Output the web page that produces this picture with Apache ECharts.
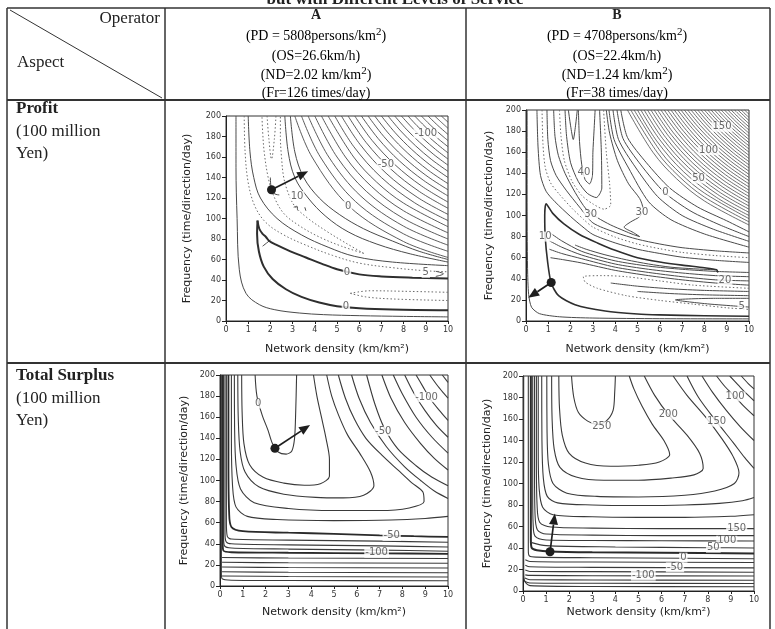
<!DOCTYPE html>
<html><head><meta charset="utf-8">
<script src="https://cdn.jsdelivr.net/npm/echarts/dist/echarts.min.js"></script>
<style>html,body{margin:0;padding:0;background:#fff}#c{width:775px;height:629px}</style>
</head><body><div id="c"></div>
<script>
// ---------- axis ticks ----------
const xTicks = [0,1,2,3,4,5,6,7,8,9,10];
const yTicks = [0,20,40,60,80,100,120,140,160,180,200];

// ---------- table text ----------
const headerA = ['A','(PD = 5808persons/km2)','(OS=26.6km/h)','(ND=2.02 km/km2)','(Fr=126 times/day)'];
const headerB = ['B','(PD = 4708persons/km2)','(OS=22.4km/h)','(ND=1.24 km/km2)','(Fr=38 times/day)'];
const rowProfit = ['Profit','(100 million','Yen)'];
const rowSurplus = ['Total Surplus','(100 million','Yen)'];

// ---------- Profit, operator A ----------
const profitA_solid = [
 [[0.45,200],[0.45,150],[0.5,100],[0.6,50],[0.9,27],[1.5,16],[2.2,11],[3.3,7.8],[4.4,6.2],[6,5.2],[8,4.5],[10,4]],
 [[1.0,200],[1.08,165],[1.25,140],[1.55,120],[2.3,100],[3.4,84],[4.6,72],[5.8,63],[7.5,57.5],[10,54]],
 [[2.0,140],[2.05,128],[2.2,124],[2.4,123]],
 [[3.05,111],[3.2,112],[3.22,108]],[[3.55,111],[3.6,107.5]],
 [[2.0,79],[1.65,73]],
 [[9.45,48.5],[9.8,46],[9.45,43.5]],
 [[2.65,200],[2.8,165],[3.1,140],[3.7,120],[4.5,102],[5.5,87],[6.8,75],[8.3,65.5],[10,57.5]],
 [[2.9,200],[3.1,165],[3.5,140],[4.2,120],[5.1,104],[6.2,90],[7.5,78],[8.7,68],[10,60]]
];
const profitA_family = [
 [[3.1,200],[3.875,160],[5.57,111.4],[8,77.5],[10,62]],
 [[3.4,200],[4.25,160],[5.83,116.6],[8,85],[10,68]],
 [[3.7,200],[4.63,160],[6.08,121.7],[8,92.5],[10,74]],
 [[4.0,200],[5.0,160],[6.32,126.5],[8,100],[10,80]],
 [[4.3,200],[5.38,160],[6.56,131.1],[8,107.5],[10,86]],
 [[4.6,200],[5.75,160],[6.78,135.6],[8,115],[10,92]],
 [[4.9,200],[5.76,170],[7.0,140],[8.5,115.3],[10,98]],
 [[5.2,200],[6.04,172.2],[7.21,144.2],[8.61,120.8],[10,104]],
 [[5.5,200],[6.31,174.2],[7.42,148.3],[8.71,126.3],[10,110]],
 [[5.8,200],[6.58,176.2],[7.62,152.3],[8.81,131.7],[10,116]],
 [[6.1,200],[6.85,178.1],[7.81,156.2],[8.91,137],[10,122]],
 [[6.4,200],[7.11,180],[8.0,160],[9.0,142.2],[10,128]],
 [[6.7,200],[7.37,181.8],[8.19,163.7],[9.09,147.4],[10,134]],
 [[7.0,200],[7.62,183.7],[8.37,167.3],[9.18,152.5],[10,140]],
 [[7.3,200],[7.87,185.4],[8.54,170.9],[9.27,157.4],[10,146]],
 [[7.6,200],[8.12,187.2],[8.72,174.4],[9.36,162.4],[10,152]],
 [[7.9,200],[8.37,188.9],[8.89,177.8],[9.44,167.4],[10,158]],
 [[8.2,200],[8.6,190.6],[9.06,181.1],[9.53,172.2],[10,164]],
 [[8.5,200],[8.85,192.2],[9.22,184.4],[9.61,176.9],[10,170]],
 [[8.8,200],[9.08,193.8],[9.38,187.6],[9.69,181.6],[10,176]],
 [[9.1,200],[9.54,190.8],[10,182]],
 [[9.4,200],[9.7,193.9],[10,188]],
 [[9.7,200],[9.85,197],[10,194]]
];
const profitA_thick = [
 [[1.42,98],[1.4,85],[1.48,68],[1.7,53],[2.1,41],[2.7,31],[3.4,23.5],[4.2,18],[5,14.5],[6,12.5],[7.5,11.2],[10,10.5]],
 [[1.42,98],[1.5,90],[1.65,85],[1.8,82],[1.95,78],[2.25,74.5],[2.9,68],[3.6,62],[4.3,56],[5,50.5],[6,45.5],[7,43.5],[8.4,42.3],[10,41.5]]
];
const profitA_dotted = [
 [[0.82,200],[0.86,165],[1.0,135],[1.3,112],[1.8,96],[2.6,84],[3.6,74],[4.8,64],[6,56.5],[7.5,52],[9,49],[10,48]],
 [[6.2,66],[5.2,73],[4.2,82],[3.3,93],[2.6,105],[2.15,122],[1.9,140],[1.72,165],[1.65,185],[1.62,200]],
 [[6.2,66],[5.4,76],[4.5,88],[3.7,100],[3.1,112],[2.8,125],[2.6,140],[2.5,160],[2.45,180],[2.45,200]],
 [[1.85,200],[1.93,178],[2.05,158],[2.18,178],[2.25,200]],
 [[5.6,27],[6.5,29.5],[8,29],[10,28]],
 [[5.6,27],[6.3,23.5],[7.5,21.5],[10,20]]
];
const profitA_labels = [[5.5,112,'0'],[5.45,47.5,'0'],[5.4,14,'0'],[3.2,122,'10'],[9.0,47,'5'],[7.2,153,'-50'],[9.0,183,'-100']];
const profitA_arrow = [[2.05,128,3.7,146]];

// ---------- Profit, operator B ----------
const profitB_solid = [
 [[0.05,200],[0.05,120],[0.07,50],[0.12,25],[0.25,13],[0.6,7],[1.5,4],[3,2.8],[6,2.2],[10,2]],
 [[0.49,200],[0.54,165],[0.65,138],[0.9,123],[1.3,113],[2,99],[2.5,90],[3,82],[4,74],[5,68],[6,64],[7,60.5],[8.5,57.5],[10,55.5]],
 [[0.94,200],[0.98,172],[1.1,152],[1.35,138],[1.8,124],[2.4,108],[3,93],[4,84],[5,77.5],[6,73],[7,69.5],[8.5,66.5],[10,64.5]],
 [[1.24,200],[1.3,175],[1.45,157],[1.75,140],[2.2,122],[2.7,106],[3.2,98],[3.8,91],[4.4,85.5],[4.8,82],[5.1,80],[4.8,84],[4.4,89],[4.7,94],[5.1,99],[5.25,106],[5.1,116],[4.6,130],[4.1,152],[3.75,178],[3.6,200]],
 [[1.75,200],[1.82,175],[2.0,150],[2.35,132],[2.75,121],[3.15,117],[3.4,126],[3.38,160],[3.3,200]],
 [[1.9,200],[2.0,185],[2.12,172],[2.22,185],[2.3,200]],
 [[2.35,200],[2.4,170],[2.5,148],[2.65,134],[2.85,130],[2.98,138],[3.0,160],[3.05,180],[3.1,200]],
 [[3.72,200],[3.95,172],[4.6,145],[5.5,113],[6.5,96],[8,82.5],[10,70]],
 [[3.9,200],[4.15,172],[4.9,146],[5.9,118],[7,100],[8.4,87],[10,75.5]],
 [[4.08,200],[4.35,173],[5.15,148],[6.2,122],[7.4,104],[8.7,91],[10,80]],
 [[4.25,200],[4.55,174],[5.4,150],[6.45,126],[7.7,108],[9,95],[10,84.5]],
 [[8.55,48.5],[7.5,49.5],[6.5,51],[5.5,54],[4.5,58],[3.5,63],[2.7,68],[2.2,72]],
 [[1.05,84],[1.6,76],[2.5,66],[4,57],[5.5,52],[7,49],[8.5,47],[10,46]],
 [[1.05,76],[1.6,70],[2.5,62.5],[4,54],[5.5,49],[7,45.5],[8.5,43],[10,42]],
 [[1.05,68],[1.6,64],[2.5,59],[4,51],[5.5,46],[7,42],[8.5,39],[10,38]],
 [[1.1,60],[1.7,58],[2.5,55],[4,48],[5.5,43],[7,39],[8.5,36],[10,34]],
 [[3.8,36],[5,33],[6.5,30.5],[8,29],[10,28]],
 [[5,28],[6.5,26],[8,24.8],[10,24]],
 [[10,21.5],[8.5,21.5],[6.7,20],[8,16.5],[9.3,14.3],[10,13.2]]
];
const profitB_family = [
 [[4.55,200],[5.69,160],[6.75,134.9],[8,113.8],[10,91]],
 [[4.7,200],[5.88,160],[6.86,137.1],[8,117.5],[10,94]],
 [[4.85,200],[6.06,160],[6.96,139.3],[8,121.3],[10,97]],
 [[5,200],[5.86,170.7],[7.07,141.4],[8.54,117.2],[10,100]],
 [[5.15,200],[6.0,171.8],[7.18,143.5],[8.59,120],[10,103]],
 [[5.3,200],[6.13,172.8],[7.28,145.6],[8.64,122.7],[10,106]],
 [[5.45,200],[6.27,173.8],[7.38,147.6],[8.69,125.4],[10,109]],
 [[5.6,200],[6.41,174.8],[7.48,149.7],[8.74,128.2],[10,112]],
 [[5.75,200],[6.54,175.8],[7.58,151.7],[8.79,130.8],[10,115]],
 [[5.9,200],[6.67,176.8],[7.68,153.6],[8.84,133.5],[10,118]],
 [[6.05,200],[6.81,177.8],[7.78,155.6],[8.89,136.1],[10,121]],
 [[6.2,200],[6.94,178.8],[7.87,157.5],[8.94,138.7],[10,124]],
 [[6.35,200],[7.07,179.7],[7.97,159.4],[8.98,141.4],[10,127]],
 [[6.5,200],[7.2,180.6],[8.06,161.2],[9.03,144],[10,130]],
 [[6.65,200],[7.33,181.5],[8.15,163],[9.08,146.5],[10,133]],
 [[6.8,200],[7.46,182.5],[8.25,164.9],[9.12,149.1],[10,136]],
 [[6.95,200],[7.58,183.4],[8.34,166.7],[9.17,151.6],[10,139]],
 [[7.1,200],[7.71,184.2],[8.43,168.5],[9.21,154.2],[10,142]],
 [[7.25,200],[7.83,185.1],[8.51,170.3],[9.26,156.6],[10,145]],
 [[7.4,200],[7.96,186],[8.6,172],[9.3,159.2],[10,148]],
 [[7.55,200],[8.08,186.9],[8.69,173.8],[9.34,161.6],[10,151]],
 [[7.7,200],[8.2,187.7],[8.77,175.5],[9.39,164],[10,154]],
 [[7.85,200],[8.32,188.6],[8.86,177.2],[9.43,166.5],[10,157]],
 [[8.0,200],[8.45,189.4],[8.94,178.9],[9.47,169],[10,160]],
 [[8.15,200],[8.57,190.2],[9.03,180.6],[9.51,171.4],[10,163]],
 [[8.3,200],[8.68,191.1],[9.11,182.2],[9.56,173.6],[10,166]],
 [[8.45,200],[8.8,192],[9.19,183.8],[9.6,176],[10,169]],
 [[8.6,200],[8.92,192.8],[9.27,185.4],[9.64,178.4],[10,172]],
 [[8.75,200],[9.04,193.6],[9.35,187],[9.68,180.8],[10,175]],
 [[8.9,200],[9.16,194.4],[9.43,188.7],[9.72,183.2],[10,178]],
 [[9.05,200],[9.51,190.3],[10,181]],
 [[9.2,200],[9.59,191.8],[10,184]],
 [[9.35,200],[9.67,193.4],[10,187]],
 [[9.5,200],[9.75,195],[10,190]],
 [[9.65,200],[9.82,196.4],[10,193]],
 [[9.8,200],[9.9,198],[10,196]]
];
const profitB_thick = [
 [[10,4.5],[8,5],[6,5.8],[5,6.6],[3.55,9.5],[2.2,15.5],[1.46,24],[1.13,36],[0.97,56],[0.86,80],[0.84,100],[0.9,111],[1.2,102],[1.7,92],[2.4,82],[3.2,74],[4,67],[5,60],[6,56],[7,53],[8,50.5],[8.55,48.5],[8.6,46]]
];
const profitB_dotted = [
 [[0.72,200],[0.76,168],[0.86,146],[1.1,131],[1.5,120],[2.1,106],[2.6,96],[3,89],[4,79.5],[5,73],[6,68.5],[7,65],[8.5,62],[10,60]],
 [[1.5,200],[1.57,175],[1.72,152],[2.05,133],[2.5,119],[3.0,111],[3.5,106],[3.8,110],[3.75,130],[3.6,160],[3.48,200]],
 [[10,31],[7.5,34],[6,38],[4.5,42],[3.5,43],[2.57,42],[2.65,37],[3.2,31],[4.5,24],[6,19.5],[7.5,16],[9,12.5],[10,11]]
];
const profitB_labels = [[0.86,80,'10'],[2.9,101,'30'],[5.2,103,'30'],[2.6,141,'40'],[6.25,122,'0'],[7.74,135,'50'],[8.19,162,'100'],[8.79,184,'150'],[8.92,38.5,'20'],[9.67,13.6,'5']];
const profitB_arrow = [[1.13,36.5,0.1,22]];

// ---------- Total surplus, operator A ----------
const surplusA_solid = [
 [[1.54,200],[1.62,180],[1.85,162],[2.1,148],[2.3,135],[2.55,127],[2.9,125],[3.15,128],[3.27,140],[3.32,165],[3.36,200]],
 [[0.95,200],[0.97,165],[1.05,135],[1.3,115],[1.9,103],[2.8,97.5],[3.7,95.5],[4.4,97],[4.8,104],[4.8,120],[4.65,140],[4.45,160],[4.25,180],[4.1,200]],
 [[0.78,200],[0.8,160],[0.88,128],[1.1,108],[1.7,94],[2.8,87],[4.2,84],[5.4,83.5],[6.3,86],[6.75,95],[6.6,108],[6.15,125],[5.6,143],[5.2,162],[4.9,180],[4.68,200]],
 [[0.63,200],[0.64,150],[0.7,115],[0.9,92],[1.5,79],[3,73.5],[5,71.5],[7,71.5],[8.3,74],[8.95,80],[8.9,89],[8.4,98],[7.8,110],[7.1,124],[6.4,140],[5.9,158],[5.5,178],[5.19,200]],
 [[0.5,200],[0.5,140],[0.55,95],[0.7,75],[1.2,66],[2.5,63],[5,62],[7.5,62.5],[9,64],[10,66]],
 [[5.77,200],[6.1,178],[6.6,155],[7.3,132],[8.1,113],[8.8,100],[9.4,90],[10,83]],
 [[6.43,200],[6.8,172],[7.2,150],[7.8,130],[8.6,114],[9.3,103],[10,95]],
 [[7.1,200],[7.5,178],[8.1,155],[8.8,135],[9.4,121],[10,110]],
 [[7.6,200],[8.0,182],[8.6,160],[9.3,141],[10,126]],
 [[8.1,200],[8.5,183],[9.0,166],[9.5,152],[10,141]],
 [[8.6,200],[8.9,189],[9.2,178],[9.6,167],[10,157]],
 [[9.2,200],[9.5,191],[9.8,183],[10,178]],
 [[9.75,200],[10,193]],
 [[0.28,200],[0.28,60],[0.32,47],[0.5,44.5],[3,43.5],[7,42.5],[10,41.5]],
 [[0.22,200],[0.22,50],[0.27,42],[0.5,40],[3,39],[7,38],[10,37]],
 [[0.16,200],[0.16,45],[0.2,38],[0.5,36],[3,35],[7,34],[10,33]],
 [[0.09,27],[3,26.5],[10,26]],
 [[0.09,22.5],[3,22],[10,21.5]],
 [[0.09,18],[3,17.5],[10,17]],
 [[0.09,13.5],[3,13],[10,12.5]],
 [[0.09,9.5],[3,9],[10,8.5]],
 [[0.06,200],[0.06,12],[0.09,7],[0.5,5.5],[3,5.2],[10,5]]
];
const surplusA_thick = [
 [[0.37,200],[0.37,120],[0.4,70],[0.5,56],[1,52],[3,50.5],[5,49.5],[7,48],[8.5,47.2],[10,46.5]],
 [[0.12,200],[0.12,40],[0.15,33.5],[0.5,32],[3,31.5],[7,31],[10,30.5]]
];
const surplusA_labels = [[1.68,173,'0'],[7.16,147,'-50'],[9.06,179,'-100'],[7.53,47.5,'-50'],[6.87,31.5,'-100']];
const surplusA_arrow = [[2.41,130.5,3.95,152.6]];

// ---------- Total surplus, operator B ----------
const surplusB_solid = [
 [[2.1,200],[2.2,180],[2.4,166],[2.8,158],[3.2,155],[3.6,158],[3.9,168],[3.97,185],[4.0,200]],
 [[1.55,200],[1.58,170],[1.7,145],[2.0,128],[2.7,119],[3.8,116],[5.0,117],[5.9,120],[6.35,127],[6.1,140],[5.6,155],[5.15,172],[4.8,188],[4.6,200]],
 [[1.24,200],[1.26,160],[1.35,132],[1.6,115],[2.3,106],[3.5,103],[5,103],[6.4,105],[7.4,108],[7.8,114],[7.65,128],[7.1,145],[6.3,164],[5.7,182],[5.25,200]],
 [[1.03,200],[1.04,150],[1.1,118],[1.3,100],[1.9,91],[3.2,88],[5,87.5],[7,89],[8.3,93],[9.15,100],[9.35,110],[9.1,125],[8.6,142],[7.9,162],[7.1,182],[6.5,200]],
 [[0.81,200],[0.82,140],[0.88,105],[1.05,88],[1.5,82],[3,80],[5,79.5],[7,80],[8.5,81.5],[9.5,84],[10,87]],
 [[7.1,200],[7.6,180],[8.38,157.5],[9.1,138],[9.6,124],[10,114]],
 [[0.66,200],[0.66,130],[0.7,95],[0.85,78],[1.3,71],[3,69],[5,68.5],[7,68.5],[9,69.5],[10,71]],
 [[7.75,200],[8.2,185],[8.8,168],[9.4,153],[10,140]],
 [[0.58,200],[0.58,120],[0.61,80],[0.72,64],[1.2,59.5],[3,58.5],[6,58],[8,58],[10,58]],
 [[8.38,200],[8.75,190],[9.18,180.7],[9.6,171],[10,163]],
 [[0.5,200],[0.5,110],[0.52,72],[0.62,57],[1,53],[3,52],[6,51.5],[10,51.5]],
 [[8.95,200],[9.3,192],[9.65,184],[10,177]],
 [[0.42,200],[0.42,90],[0.44,62],[0.52,51],[1,47.5],[3,47],[6,46.8],[10,46.5]],
 [[9.45,200],[9.75,193],[10,188]],
 [[0.38,45],[1,42.2],[4,41],[8,40.3],[10,40]],
 [[0.23,200],[0.23,38],[0.28,32.5],[0.6,31.5],[3,31],[7,30.5],[10,30]],
 [[0.1,29],[0.3,27.5],[3,27],[10,26.5]],
 [[0.1,24],[0.3,22.5],[3,22],[10,21.5]],
 [[0.1,19.5],[0.3,18.2],[3,18],[10,17.5]],
 [[0.1,15],[0.3,14.5],[3,14.2],[10,14]],
 [[0.08,12],[0.3,10.5],[3,10.3],[10,10]],
 [[0.06,9],[0.3,7.5],[3,7.2],[10,7]],
 [[0.03,200],[0.03,20],[0.06,10],[0.3,5],[3,4.2],[10,4]]
];
const surplusB_thick = [
 [[0.34,200],[0.34,48],[0.38,40],[0.6,38],[1.17,36.8],[3,36],[6,35.5],[10,35]]
];
const surplusB_labels = [[3.41,153,'250'],[6.29,164,'200'],[8.38,157.5,'150'],[9.18,181,'100'],[9.25,58.3,'150'],[8.82,46.8,'100'],[8.24,40.3,'50'],[6.94,31,'0'],[6.58,22,'-50'],[5.21,14.3,'-100']];
const surplusB_arrow = [[1.17,36.5,1.38,72]];

// ================= build =================
const PLOT_FONT = 'DejaVu Sans';
const SERIF = 'Liberation Serif';
const grids = [
  {left:226, top:116, width:222, height:205},
  {left:526, top:110, width:223, height:211},
  {left:220, top:375, width:228, height:211},
  {left:523, top:376, width:231, height:215}
];
const xNameGap = [23, 23, 21, 16];
const yNameGap = [33, 31, 30, 30];

const grid = grids.map(g => Object.assign({show:true, borderColor:'#333', borderWidth:1, backgroundColor:'rgba(0,0,0,0)'}, g));
const xAxis = grids.map((g,i) => ({
  gridIndex:i, type:'value', min:xTicks[0], max:xTicks[xTicks.length-1], interval:1,
  name:'Network density (km/km²)', nameLocation:'middle', nameGap:xNameGap[i],
  nameTextStyle:{fontFamily:PLOT_FONT, fontSize:11, color:'#222'},
  axisLine:{show:true, lineStyle:{color:'#222', width:1}},
  axisTick:{show:true, length:3, lineStyle:{color:'#222'}},
  axisLabel:{fontFamily:PLOT_FONT, fontSize:8, color:'#333', margin:5},
  splitLine:{show:false}
}));
const yAxis = grids.map((g,i) => ({
  gridIndex:i, type:'value', min:yTicks[0], max:yTicks[yTicks.length-1], interval:20,
  name:'Frequency (time/direction/day)', nameLocation:'middle', nameGap:yNameGap[i], nameRotate:90,
  nameTextStyle:{fontFamily:PLOT_FONT, fontSize:11, color:'#222'},
  axisLine:{show:true, lineStyle:{color:'#222', width:1}},
  axisTick:{show:true, length:4, lineStyle:{color:'#222'}},
  axisLabel:{fontFamily:PLOT_FONT, fontSize:8, color:'#333', margin:5},
  splitLine:{show:false}
}));

const series = [];
function addLines(gi, lines, style, smooth) {
  lines.forEach(d => series.push({
    type:'line', xAxisIndex:gi, yAxisIndex:gi, data:d, showSymbol:false, symbol:'none',
    smooth: smooth === undefined ? 0.35 : smooth, lineStyle:style, silent:true, animation:false, z:2
  }));
}
function addLabels(gi, labels) {
  series.push({
    type:'scatter', xAxisIndex:gi, yAxisIndex:gi, data:labels, symbolSize:2,
    itemStyle:{color:'rgba(0,0,0,0)'}, silent:true, animation:false, z:5,
    label:{show:true, position:'inside', formatter:p => p.data[2], fontFamily:PLOT_FONT, fontSize:10,
           color:'#444', backgroundColor:'#ffffff', padding:[0,1]}
  });
}
function addArrow(gi, arr) {
  series.push({
    type:'custom', xAxisIndex:gi, yAxisIndex:gi, data:arr, silent:true, animation:false, z:6,
    encode:{x:[0,2], y:[1,3]},
    renderItem:(params, api) => {
      const p1 = api.coord([api.value(0), api.value(1)]);
      const p2 = api.coord([api.value(2), api.value(3)]);
      const dx = p2[0]-p1[0], dy = p2[1]-p1[1];
      const L = Math.sqrt(dx*dx+dy*dy) || 1;
      const ux = dx/L, uy = dy/L, head = 11, w = 4.5;
      const bx = p2[0]-ux*head, by = p2[1]-uy*head;
      return {type:'group', children:[
        {type:'line', shape:{x1:p1[0], y1:p1[1], x2:bx, y2:by}, style:{stroke:'#1e1e1e', lineWidth:1.7}},
        {type:'polygon', shape:{points:[[p2[0],p2[1]],[bx-uy*w, by+ux*w],[bx+uy*w, by-ux*w]]}, style:{fill:'#1e1e1e'}},
        {type:'circle', shape:{cx:p1[0], cy:p1[1], r:4.5}, style:{fill:'#1e1e1e'}}
      ]};
    }
  });
}
const thin = {color:'#4a4a4a', width:1, type:'solid'};
const fine = {color:'#4a4a4a', width:0.9, type:'solid'};
const thick = {color:'#2e2e2e', width:2, type:'solid'};
const dotted = {color:'#6a6a6a', width:1, type:[1.5,2.2]};

addLines(0, profitA_solid, thin);
addLines(0, profitA_family, fine);
addLines(0, profitA_thick, thick);
addLines(0, profitA_dotted, dotted);
addLabels(0, profitA_labels);
addArrow(0, profitA_arrow);

addLines(1, profitB_solid, thin, 0.25);
addLines(1, profitB_family, {color:'#4a4a4a', width:0.8, type:'solid'});
addLines(1, profitB_thick, {color:'#2e2e2e', width:1.6, type:'solid'}, 0.25);
addLines(1, profitB_dotted, dotted, 0.25);
addLabels(1, profitB_labels);
addArrow(1, profitB_arrow);

addLines(2, surplusA_solid, {color:'#3a3a3a', width:1.1, type:'solid'}, 0.3);
addLines(2, surplusA_thick, {color:'#2a2a2a', width:1.8, type:'solid'}, 0.3);
addLabels(2, surplusA_labels);
addArrow(2, surplusA_arrow);

addLines(3, surplusB_solid, {color:'#3a3a3a', width:1.1, type:'solid'}, 0.3);
addLines(3, surplusB_thick, {color:'#2a2a2a', width:2, type:'solid'}, 0.3);
addLabels(3, surplusB_labels);
addArrow(3, surplusB_arrow);

// ---------- table (graphic) ----------
const rich = {
  n:{fontFamily:SERIF, fontSize:14, color:'#222', lineHeight:18},
  s:{fontFamily:SERIF, fontSize:11, color:'#222', padding:[0,0,7,0], lineHeight:18}
};
function richText(t){
  const parts = t.split('km2');
  if (parts.length === 1) return '{n|' + t + '}';
  return parts.map(p => '{n|' + p + '}').join('{n|km}{s|2}');
}
const g = [];
function line(x1,y1,x2,y2,w){ g.push({type:'line', silent:true, shape:{x1,y1,x2,y2}, style:{stroke:'#333', lineWidth:w||1.3}}); }
function text(x,y,t,opt){
  g.push({type:'text', silent:true, x, y, style:Object.assign({text:t, fill:'#222', font:'17px "Liberation Serif"', textAlign:'left', textVerticalAlign:'middle'}, opt||{})});
}
text(395,0,'but with Different Levels of Service',{textAlign:'center', font:'bold 17px "Liberation Serif"'});
line(7,8,770,8,1.5);
line(7,8,7,629,1.5);
line(770,8,770,629,1.5);
line(7,100,770,100,2);
line(7,363,770,363,2);
line(165,8,165,629,1.5);
line(466,8,466,629,1.5);
line(10,10,162,98,1);
text(160,19,'Operator',{textAlign:'right'});
text(17,63,'Aspect');
function header(cx, arr){
  text(cx,15,arr[0],{textAlign:'center', font:'bold 14px "Liberation Serif"'});
  const ys=[36,56,75,93];
  for(let i=1;i<arr.length;i++){
    g.push({type:'text', silent:true, x:cx, y:ys[i-1], style:{text:richText(arr[i]), rich:rich, textAlign:'center', textVerticalAlign:'middle'}});
  }
}
header(316, headerA);
header(617, headerB);
function rowHead(y0, arr){
  text(16,y0,arr[0],{font:'bold 17px "Liberation Serif"'});
  text(16,y0+23,arr[1]);
  text(16,y0+45,arr[2]);
}
rowHead(109, rowProfit);
rowHead(376, rowSurplus);

const chart = echarts.init(document.getElementById('c'), null, {renderer:'canvas'});
chart.setOption({
  backgroundColor:'#ffffff',
  animation:false,
  grid, xAxis, yAxis, series,
  graphic:{elements:g}
});
</script></body></html>
